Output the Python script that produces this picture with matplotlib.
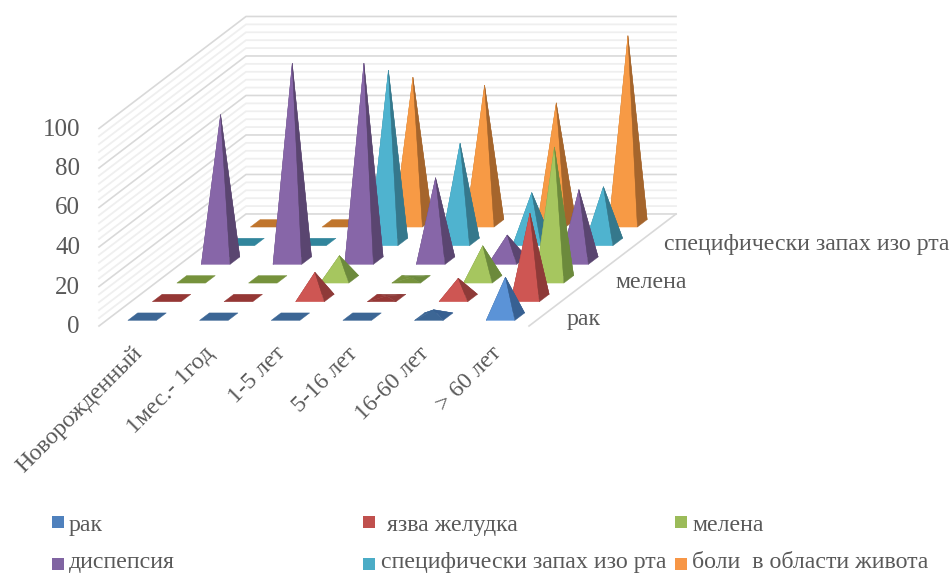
"""
3D pyramid chart redrawn with an oblique projection on a pixel-sized axes
"""

import matplotlib
matplotlib.use("Agg")
import matplotlib.pyplot as plt
from matplotlib.patches import Polygon, Rectangle

plt.rcParams["font.family"] = ["Liberation Serif", "DejaVu Serif"]

categories = ["Новорожденный", "1мес.- 1год", "1-5 лет", "5-16 лет", "16-60 лет", "> 60 лет"]
series_names = ["рак", " язва желудка", "мелена", "диспепсия",
                "специфически запах изо рта", "боли  в области живота"]

rak = [0, 0, 0, 0, 3.5, 20]
yazva = [0, 0, 13, 1, 10, 43]
melena = [0, 0, 12, 1, 17, 67]
dispepsia = [74, 100, 100, 42, 13, 36]
zapah = [0, 0, 87, 50, 25, 28]
boli = [0, 0, 74, 70, 61, 95]
values = [rak, yazva, melena, dispepsia, zapah, boli]

front_cols = ["#5B93D7", "#CE5653", "#A6C65F", "#8766A8", "#4FB3CF", "#F79A45"]
side_cols = ["#376092", "#8E3A38", "#6C8A3C", "#5A4570", "#35788C", "#A5652C"]
flat_cols = ["#3C6695", "#953735", "#76923C", "#5F497A", "#31859C", "#C0752C"]
legend_cols = ["#4F81BD", "#C0504D", "#9BBB59", "#8064A2", "#4BACC6", "#F79646"]

TXT = "#595959"
GRID = "#D9D9D9"
MINOR = "#EFEFEF"


def proj(u, v, z=0):
    # affine mapping: category u, series v, height z -> pixels
    return (99 + 71.67 * u + 24.5 * v, 326 - 18.67 * v - 1.975 * z)


fig = plt.figure(figsize=(9.52, 5.74), dpi=100, facecolor="white")
ax = fig.add_axes([0, 0, 1, 1])
ax.set_xlim(0, 952)
ax.set_ylim(574, 0)
ax.axis("off")

# ── walls ────────────────────────────────────────────────────────────────
for z in range(0, 101, 4):
    major = z % 20 == 0
    col, lw = (GRID, 1.2) if major else (MINOR, 1.3)
    pts = [proj(0, 0, z), proj(0, 6, z), proj(6, 6, z)]
    ax.plot([p[0] for p in pts], [p[1] for p in pts], color=col, lw=lw,
            zorder=2 if major else 1, solid_joinstyle="miter")
floor_edge = [proj(6, 0), proj(6, 6)]
ax.plot([p[0] for p in floor_edge], [p[1] for p in floor_edge], color=GRID, lw=1.2, zorder=2)

# ── pyramids, back row first ─────────────────────────────────────────────
zo = 3
for j in range(5, -1, -1):
    for i, val in enumerate(values[j]):
        fl = proj(i + 0.3, j + 0.3)
        fr = proj(i + 0.7, j + 0.3)
        br = proj(i + 0.7, j + 0.7)
        bl = proj(i + 0.3, j + 0.7)
        top = proj(i + 0.5, j + 0.5, val)
        if val == 0:
            ax.add_patch(Polygon([fl, fr, br, bl], fc=flat_cols[j], ec=flat_cols[j], lw=0.3, zorder=zo))
            zo += 1
            continue
        low = val < 5
        ax.add_patch(Polygon([bl, br, top], fc=side_cols[j], ec=side_cols[j], lw=0.3, zorder=zo))
        ax.add_patch(Polygon([fl, bl, top], fc=flat_cols[j], ec=flat_cols[j], lw=0.3, zorder=zo))
        ax.add_patch(Polygon([fl, fr, top], fc=flat_cols[j] if low else front_cols[j],
                             ec=flat_cols[j] if low else front_cols[j], lw=0.3, zorder=zo + 1))
        ax.add_patch(Polygon([fr, br, top], fc=side_cols[j], ec=side_cols[j], lw=0.3, zorder=zo + 1))
        zo += 2

# ── axis labels ──────────────────────────────────────────────────────────
for z in range(0, 101, 20):
    x, y = proj(0, 0, z)
    ax.text(x - 19, y - 1.5, str(z), ha="right", va="center_baseline", fontsize=18, color=TXT)

for i, cat in enumerate(categories):
    x, y = proj(i + 0.5, 0)
    ax.text(x - 3, y + 17, cat, rotation=45, rotation_mode="anchor", ha="right", va="top",
            fontsize=17.2, color=TXT)

for j, name in zip([0, 2, 4], [series_names[0], series_names[2], series_names[4]]):
    x, y = proj(6, j + 0.5)
    ax.text(x + 25, y + 8.5, name, ha="left", va="baseline", fontsize=17.2, color=TXT)

# ── legend ───────────────────────────────────────────────────────────────
mark_x = [52, 363, 675, 52, 363, 675]
mark_y = [516, 516, 516, 558, 558, 558]
text_x = [69, 381, 692, 69, 381, 692]
base_y = [531, 531, 531, 568, 568, 568]
for name, col, mx, my, tx, y in zip(series_names, legend_cols, mark_x, mark_y, text_x, base_y):
    ax.add_patch(Rectangle((mx, my), 12, 12, fc=col, ec="none"))
    ax.text(tx, y, name, ha="left", va="baseline", fontsize=17.2, color=TXT)

plt.savefig("out.png", dpi=100)
